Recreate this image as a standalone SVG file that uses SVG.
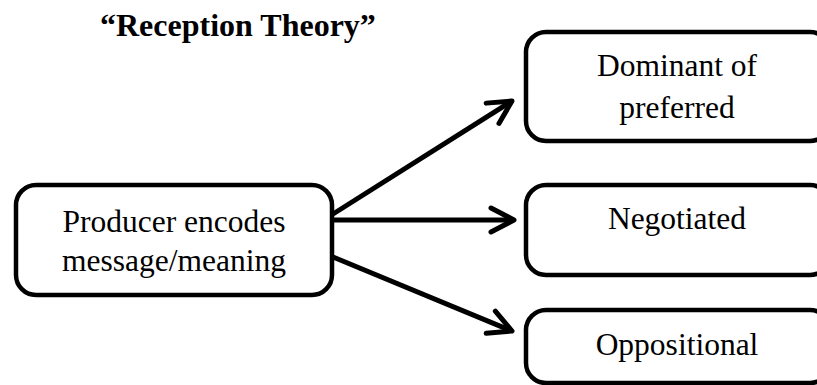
<svg xmlns="http://www.w3.org/2000/svg" width="817" height="385" viewBox="0 0 817 385">
  <defs>
    <style>
      .box { fill: #ffffff; stroke: #000000; stroke-width: 4.5; }
      .lbl { font-family: "Liberation Serif", "Times New Roman", serif; font-size: 31.5px; fill: #000000; text-anchor: middle; }
      .title { font-family: "Liberation Serif", "Times New Roman", serif; font-size: 32px; font-weight: bold; fill: #000000; }
      .conn { fill: none; stroke: #000000; stroke-width: 5; }
    </style>
    <marker id="arrow" markerUnits="userSpaceOnUse" markerWidth="40" markerHeight="40" viewBox="-30 -20 40 40" refX="0" refY="0" orient="auto">
      <path d="M -23 -12 L 0 0 L -23 12" fill="none" stroke="#000000" stroke-width="5" stroke-linecap="round" stroke-linejoin="round"/>
    </marker>
  </defs>
  <rect width="817" height="385" fill="#ffffff"/>

  <text class="title" x="100" y="36">“Reception Theory”</text>

  <g id="connectors">
    <line class="conn" x1="333" y1="214" x2="512" y2="101" marker-end="url(#arrow)"/>
    <line class="conn" x1="333" y1="220" x2="514" y2="220" marker-end="url(#arrow)"/>
    <line class="conn" x1="333" y1="257" x2="512" y2="331" marker-end="url(#arrow)"/>
  </g>

  <g id="producer">
    <rect class="box" x="16" y="185" width="316" height="110" rx="20" ry="20"/>
    <text class="lbl" x="174" y="232">Producer encodes</text>
    <text class="lbl" x="174" y="271">message/meaning</text>
  </g>

  <g id="dominant">
    <rect class="box" x="526" y="32" width="304" height="109" rx="20" ry="20"/>
    <text class="lbl" x="677" y="76">Dominant of</text>
    <text class="lbl" x="677" y="118">preferred</text>
  </g>

  <g id="negotiated">
    <rect class="box" x="526" y="185" width="304" height="90" rx="20" ry="20"/>
    <text class="lbl" x="677" y="229">Negotiated</text>
  </g>

  <g id="oppositional">
    <rect class="box" x="526" y="310" width="304" height="73" rx="20" ry="20"/>
    <text class="lbl" x="677" y="355">Oppositional</text>
  </g>
</svg>
